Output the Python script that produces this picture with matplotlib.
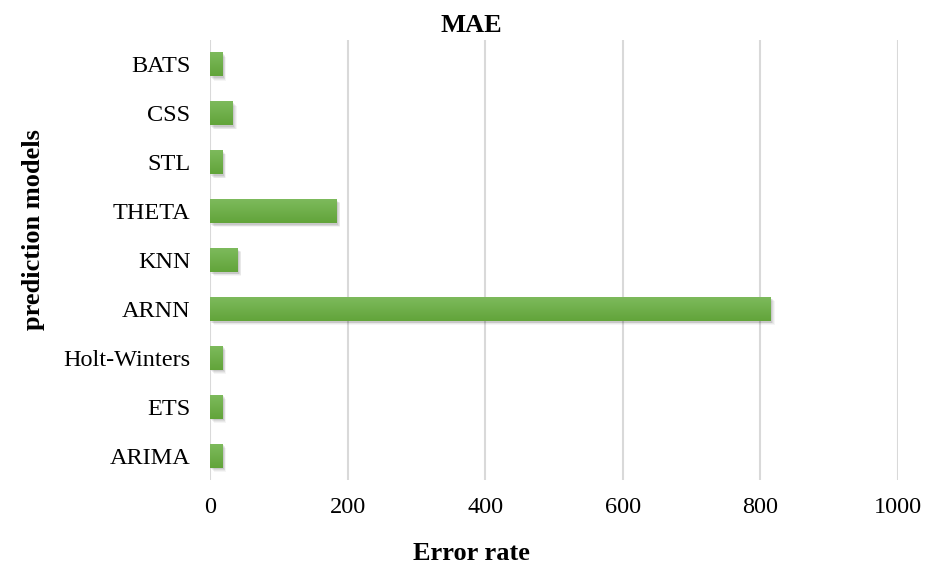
import numpy as np
import matplotlib
matplotlib.use("Agg")
import matplotlib.pyplot as plt
import matplotlib.patheffects as pe
from matplotlib.colors import LinearSegmentedColormap

plt.rcParams['font.family'] = ['Liberation Serif', 'DejaVu Serif']

# MAE per prediction model (bottom to top)
models = ["ARIMA", "ETS", "Holt-Winters", "ARNN", "KNN", "THETA", "STL", "CSS", "BATS"]
mae = [18, 18, 18, 815, 40, 184, 18, 33, 18]
xticks = [0, 200, 400, 600, 800, 1000]

fig = plt.figure(figsize=(9.28, 5.69), dpi=100)
ax = fig.add_axes([0.2263, 0.1564, 0.7414, 0.7733])

y = np.arange(len(models))
h = 0.49

# soft drop shadow under each bar (stacked offsets fake a blur)
shadow = [pe.SimplePatchShadow(offset=(2.8, -3.0), shadow_rgbFace='#000000', alpha=0.04),
          pe.SimplePatchShadow(offset=(2.2, -2.4), shadow_rgbFace='#000000', alpha=0.05),
          pe.SimplePatchShadow(offset=(1.6, -1.8), shadow_rgbFace='#000000', alpha=0.06),
          pe.SimplePatchShadow(offset=(1.0, -1.2), shadow_rgbFace='#000000', alpha=0.08),
          pe.Normal()]
bars = ax.barh(y, mae, height=h, color='#70AD47', zorder=3)
for b in bars:
    b.set_path_effects(shadow)

# vertical gradient fill on top of the bars
cmap = LinearSegmentedColormap.from_list('g', ['#7DBA5C', '#62A43A'])
grad = np.linspace(0, 1, 64).reshape(-1, 1)
for yi, v in zip(y, mae):
    ax.imshow(grad, cmap=cmap, extent=[0, v, yi - h / 2, yi + h / 2],
              aspect='auto', origin='upper', zorder=4, interpolation='bilinear')

ax.set_xlim(0, 1000)
ax.set_ylim(-0.5, len(models) - 0.5)
ax.set_xticks(xticks)
ax.set_xticklabels([str(t) for t in xticks])
ax.set_yticks(y)
ax.set_yticklabels(models)
ax.tick_params(axis='both', length=0, labelsize=17.5)
ax.tick_params(axis='x', pad=12)
ax.tick_params(axis='y', pad=14)
ax.grid(axis='x', color='#D9D9D9', linewidth=1.5, zorder=0)
ax.set_axisbelow(True)
for s in ax.spines.values():
    s.set_visible(False)

fig.text(0.508, 0.955, "MAE", ha='center', va='center', fontsize=19, fontweight='bold')
fig.text(0.508, 0.028, "Error rate", ha='center', va='center', fontsize=19, fontweight='bold')
fig.text(0.036, 0.596, "prediction models", ha='center', va='center', rotation=90,
         fontsize=19, fontweight='bold')

fig.savefig("out.png", dpi=100)
